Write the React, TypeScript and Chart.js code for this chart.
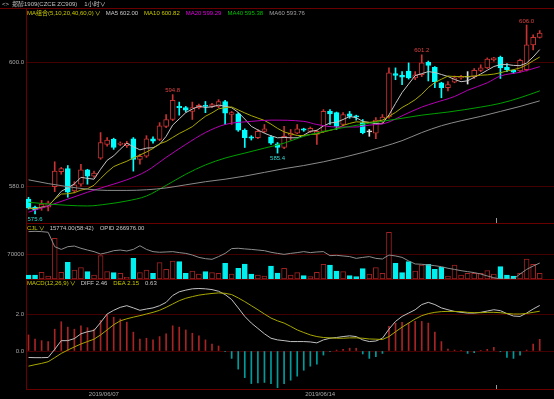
import React, { useEffect, useRef } from "react";
import { Chart, registerables } from "chart.js";

Chart.register(...registerables);

// ---------------- data ----------------
const OPEN = [578.0, 576.7, 576.6, 576.7, 580.0, 582.4, 582.9, 579.3, 580.4, 582.7,
  581.7, 584.6, 586.8, 587.6, 586.8, 586.6, 587.7, 584.4, 584.9, 587.7,
  587.6, 589.7, 590.8, 592.9, 592.7, 592.1, 592.7, 593.0, 592.9, 592.9,
  593.7, 591.6, 591.7, 589.1, 588.0, 587.9, 588.9, 588.0, 586.9, 586.3,
  588.3, 588.6, 589.3, 588.9, 588.4, 588.9, 592.1, 591.9, 590.0, 591.7,
  591.4, 590.3, 588.8, 588.6, 590.5, 591.2, 598.2, 597.9, 598.6, 597.5,
  598.0, 600.0, 599.2, 596.7, 595.9, 596.8, 597.5, 597.6, 597.7, 598.7,
  599.1, 600.4, 600.8, 599.2, 598.7, 598.6, 598.8, 602.8, 604.0];
const HIGH = [578.3, 576.9, 577.8, 577.7, 584.0, 583.1, 583.4, 580.8, 583.6, 582.8,
  582.5, 588.7, 587.9, 587.8, 587.2, 587.3, 587.9, 585.2, 588.2, 588.0,
  590.3, 591.6, 594.8, 593.6, 592.9, 593.6, 593.3, 593.7, 593.4, 594.0,
  593.9, 592.1, 591.9, 589.3, 588.2, 589.2, 590.0, 588.2, 587.1, 589.7,
  589.2, 590.0, 589.4, 589.6, 589.1, 592.4, 592.4, 592.0, 591.9, 592.1,
  591.5, 590.8, 589.2, 591.1, 591.6, 599.1, 599.1, 598.5, 599.9, 598.5,
  601.2, 600.2, 599.3, 596.8, 596.9, 597.8, 597.9, 598.5, 599.0, 599.6,
  600.7, 600.8, 601.0, 599.8, 598.8, 600.5, 606.0, 604.4, 605.1];
const LOW = [576.4, 575.6, 576.2, 576.1, 579.2, 582.0, 578.3, 579.0, 580.1, 580.4,
  581.5, 584.4, 586.5, 586.0, 586.6, 586.3, 582.5, 583.6, 584.7, 587.0,
  587.4, 589.5, 590.6, 591.5, 592.0, 590.8, 592.5, 591.9, 592.7, 592.7,
  590.0, 590.0, 588.9, 586.3, 587.5, 587.7, 588.7, 586.8, 585.4, 586.1,
  587.5, 588.5, 588.9, 588.7, 586.8, 588.7, 590.0, 589.2, 589.8, 591.0,
  590.7, 588.5, 588.1, 587.7, 590.2, 591.0, 597.2, 596.4, 597.3, 597.2,
  597.7, 597.0, 595.9, 594.3, 595.4, 596.7, 597.3, 596.5, 597.4, 598.5,
  599.0, 600.2, 597.4, 598.5, 598.2, 598.4, 598.6, 602.0, 603.9];
const CLOSE = [576.6, 576.3, 577.2, 577.4, 582.5, 582.9, 579.1, 580.3, 582.7, 581.7,
  582.2, 587.1, 587.5, 586.3, 587.0, 587.0, 584.4, 584.9, 587.7, 587.3,
  589.8, 590.8, 593.9, 592.7, 592.3, 592.7, 593.1, 592.9, 593.2, 593.7,
  591.8, 591.9, 589.1, 587.9, 587.8, 588.9, 589.3, 587.0, 586.3, 588.1,
  588.6, 589.3, 589.1, 589.4, 588.9, 592.1, 591.7, 589.7, 591.6, 591.3,
  591.2, 588.7, 588.8, 590.7, 591.2, 598.3, 597.9, 597.6, 597.5, 598.0,
  599.9, 599.5, 596.9, 595.9, 596.4, 597.5, 597.7, 597.6, 598.7, 599.1,
  600.5, 600.7, 599.1, 598.8, 598.4, 600.3, 602.8, 604.0, 604.7];

const VOLUME = [11300, 11300, 18900, 8500, 115300, 18900, 47200, 25500, 32100, 20800,
  11300, 66100, 20800, 17900, 16100, 4700, 58600, 17900, 25500, 16100,
  46300, 27400, 51000, 49100, 16100, 22700, 14200, 20800, 17900, 16100,
  44400, 14200, 30200, 42500, 14200, 11300, 8500, 36800, 17000, 30200,
  11300, 17900, 9400, 6600, 18900, 41600, 39700, 22700, 20800, 9400,
  6600, 29300, 14200, 32100, 16100, 132300, 44400, 17900, 49100, 22700,
  39700, 41600, 27400, 33100, 8500, 39700, 11300, 16100, 16100, 16100,
  23600, 14200, 34900, 11300, 8500, 16100, 56700, 41600, 15774];

const OPID = [286600, 286800, 286600, 286200, 277200, 275500, 277200, 277600, 276200, 275100,
  274100, 272600, 273500, 274700, 275100, 274500, 275500, 277800, 275500, 274100,
  273700, 273900, 274100, 273500, 273000, 272000, 270500, 269700, 269300, 271000,
  273000, 276000, 276200, 275800, 275500, 275100, 274700, 273700, 273000, 272400,
  273000, 273500, 274100, 273500, 273900, 274100, 271600, 271800, 271400, 271000,
  269900, 270500, 271000, 269900, 269500, 272000, 271400, 270500, 268300, 266400,
  266200, 265800, 265300, 264700, 263700, 263000, 262200, 261600, 261000, 260100,
  258900, 257800, 257000, 257000, 257000, 260100, 263000, 265100, 266976];

const MA20_AT = [0, 3, 6, 9, 12, 15, 18, 21, 24, 27, 30, 34, 37, 42, 44, 47, 50, 52, 54, 55, 57, 60, 62, 65, 67, 70, 72, 75, 78];
const MA20 = [575.9, 576.9, 578.0, 579.1, 580.1, 581.1, 582.5, 584.7, 586.8, 588.7, 590.0, 590.5, 590.7, 590.5, 590.0, 589.6, 589.6, 589.9, 590.1, 590.4, 591.4, 592.8, 593.5, 594.5, 595.5, 596.7, 597.8, 598.4, 599.3];
const MA40_AT = [0, 3, 6, 9, 12, 15, 18, 21, 24, 27, 30, 33, 36, 39, 42, 47, 52, 57, 60, 64, 69, 72, 75, 78];
const MA40 = [577.5, 577.2, 577.0, 576.9, 577.2, 577.7, 578.5, 580.2, 582.0, 583.5, 584.6, 585.4, 586.2, 587.0, 588.1, 589.3, 590.2, 591.0, 591.5, 592.0, 592.8, 593.4, 594.3, 595.4];
const MA60_AT = [0, 3, 6, 9, 12, 15, 18, 21, 24, 27, 30, 33, 36, 39, 42, 45, 48, 51, 54, 57, 60, 63, 66, 69, 72, 75, 78];
const MA60 = [581.1, 580.5, 580.0, 579.6, 579.4, 579.4, 579.5, 579.8, 580.3, 580.8, 581.2, 581.7, 582.3, 582.9, 583.4, 584.0, 584.7, 585.5, 586.4, 587.4, 588.7, 589.8, 590.6, 591.3, 592.1, 592.9, 593.8];

const DIFF = [-0.35, -0.36, -0.36, -0.35, 0.09, 0.56, 0.56, 0.67, 0.93, 1.04,
  1.11, 1.54, 2.00, 2.20, 2.36, 2.45, 2.33, 2.20, 2.27, 2.33,
  2.45, 2.63, 3.00, 3.20, 3.29, 3.36, 3.38, 3.36, 3.32, 3.23,
  3.05, 2.78, 2.33, 1.87, 1.51, 1.22, 0.93, 0.69, 0.60, 0.56,
  0.51, 0.51, 0.51, 0.49, 0.44, 0.60, 0.69, 0.73, 0.78, 0.82,
  0.78, 0.60, 0.51, 0.54, 0.69, 1.18, 1.60, 1.87, 2.05, 2.23,
  2.51, 2.63, 2.51, 2.33, 2.23, 2.14, 2.09, 2.05, 2.05, 2.09,
  2.16, 2.23, 2.18, 2.02, 1.89, 1.87, 2.05, 2.27, 2.46];
const DEA = [-0.82, -0.74, -0.67, -0.58, -0.36, -0.13, 0.05, 0.22, 0.38, 0.51,
  0.64, 0.87, 1.14, 1.42, 1.63, 1.74, 1.83, 1.91, 2.00, 2.09,
  2.20, 2.36, 2.54, 2.72, 2.85, 2.94, 3.02, 3.07, 3.11, 3.14,
  3.12, 3.05, 2.87, 2.67, 2.45, 2.23, 2.00, 1.78, 1.63, 1.51,
  1.33, 1.14, 1.00, 0.87, 0.78, 0.73, 0.71, 0.69, 0.69, 0.71,
  0.71, 0.69, 0.65, 0.64, 0.62, 0.78, 1.04, 1.29, 1.51, 1.73,
  1.91, 2.02, 2.09, 2.13, 2.14, 2.14, 2.13, 2.09, 2.07, 2.07,
  2.09, 2.09, 2.07, 2.03, 2.00, 2.00, 2.03, 2.09, 2.15];
const MACD_HIST = [0.87, 0.65, 0.56, 0.51, 1.18, 1.58, 1.29, 1.18, 1.36, 1.26,
  1.18, 1.65, 1.96, 1.83, 1.73, 1.56, 1.02, 0.65, 0.69, 0.60,
  0.78, 0.93, 1.36, 1.29, 1.14, 0.96, 0.82, 0.60, 0.38, 0.27,
  -0.04, -0.40, -0.98, -1.44, -1.76, -1.73, -1.70, -1.76, -1.98, -1.76,
  -1.58, -1.36, -1.04, -0.82, -0.71, -0.22, -0.04, 0.05, 0.09, 0.15,
  0.15, -0.16, -0.40, -0.31, -0.13, 1.33, 1.51, 1.55, 1.51, 1.60,
  1.60, 1.51, 1.02, 0.51, 0.11, 0.05, 0.02, -0.13, -0.09, 0.02,
  0.09, 0.20, -0.04, -0.35, -0.40, -0.22, 0.05, 0.38, 0.63];

const MA_NAMES = ["MA5", "MA10", "MA20", "MA40", "MA60"];
const MA_LAST = [602.0, 600.82, 599.29, 595.38, 593.76];
const HIGH_MARKS = [22, 60, 76];
const LOW_MARKS = [1, 38];
const DATE_TICKS: [number, string][] = [[11.5, "2019/06/07"], [44.5, "2019/06/14"]];
const CURSOR_AT = 71.4;
const MAIN_TICKS = [600, 580];
const VOL_TICKS = [70000];
const MACD_TICKS = [2, 0];
const VOL_TIME = "58:42";
const TITLE = ["<>", "郑醇1909(CZCE ZC909)", "1小时∨"];

// ---------------- scale ranges / styles ----------------
const X_RANGE = { min: -0.38, max: 80.18 };
const MAIN_RANGE = { min: 574.16, max: 608.73 };
const VOL_RANGE = { min: 0, max: 158700 };
const OPID_RANGE = { min: 257000, max: 292000 };
const MACD_RANGE = { min: -2.054, max: 3.892 };

const FONT = "'Liberation Sans', 'Noto Sans CJK SC', 'DejaVu Sans', sans-serif";
const FRAME = "#680000";
const GRID = "#440000";
const TICK_C = "#a8a8a8";
const C_RED = "#c83232";
const C_CYAN = "#00ffff";
const C_DOJI = "#e0e0e0";
const V_RED = "#a02222";
const V_CYAN = "#00f0f0";
const H_RED = "#a82424";
const H_CYAN = "#009c9c";
const MA_COLORS = ["#c4c4c4", "#a8a800", "#b400b4", "#00a000", "#8a8a8a"];
const MA_LEG_COLORS = ["#c8c8c8", "#c8c800", "#e000e0", "#00c000", "#a0a0a0"];
const LEG_YEL = "#c8c800";
const LEG_W = "#c8c8c8";
const DIFF_C = "#c0c0c0";
const DEA_C = "#a8a800";
const OPID_C = "#8c8c8c";
const PEAK_RED = "#e04040";
const LOW_CYAN = "#30d8d0";

type Seg = { text: string; color: string; gap?: number };

function movingAverage(values: number[], w: number): number[] {
  return values.map((_, i) => {
    const s = Math.max(0, i - w + 1);
    const part = values.slice(s, i + 1);
    return part.reduce((a, b) => a + b, 0) / part.length;
  });
}

function drawSegs(ctx: CanvasRenderingContext2D, x: number, y: number, segs: Seg[]) {
  ctx.save();
  ctx.font = `6px ${FONT}`;
  ctx.textBaseline = "middle";
  ctx.textAlign = "left";
  let cx = x;
  for (const s of segs) {
    ctx.fillStyle = s.color;
    ctx.fillText(s.text, cx, y);
    cx += ctx.measureText(s.text).width + (s.gap ?? 6);
  }
  ctx.restore();
}

function framePlugin(opts: { top?: boolean; legend: Seg[]; legendDy: number; extra?: (c: any) => void }) {
  return {
    id: "panelFrame",
    afterDraw(chart: any) {
      const { ctx, chartArea: ca } = chart;
      ctx.save();
      ctx.strokeStyle = FRAME;
      ctx.lineWidth = 1;
      ctx.beginPath();
      if (opts.top) {
        ctx.moveTo(0, ca.top + 0.5);
        ctx.lineTo(chart.width, ca.top + 0.5);
      }
      ctx.moveTo(ca.left, ca.bottom + 0.5);
      ctx.lineTo(ca.right, ca.bottom + 0.5);
      ctx.stroke();
      ctx.restore();
      drawSegs(ctx, ca.left + 1, ca.top + opts.legendDy, opts.legend);
      if (opts.extra) opts.extra(chart);
    },
  };
}

function xScale(display: boolean) {
  const base: any = {
    type: "linear",
    min: X_RANGE.min,
    max: X_RANGE.max,
    offset: false,
    display,
    grid: { display: false, drawTicks: false },
    border: { display: false },
  };
  if (display) {
    base.afterBuildTicks = (s: any) => {
      s.ticks = DATE_TICKS.map((t) => ({ value: t[0] }));
    };
    base.afterFit = (s: any) => {
      s.height = 10;
    };
    base.ticks = {
      color: TICK_C,
      font: { size: 6, family: FONT },
      padding: 2,
      autoSkip: false,
      maxRotation: 0,
      minRotation: 0,
      callback: (_v: any, i: number) => (DATE_TICKS[i] ? DATE_TICKS[i][1] : ""),
    };
  }
  return base;
}

function yAxis(range: { min: number; max: number }, ticks: number[], fmt: (v: number) => string) {
  return {
    type: "linear",
    position: "left",
    min: range.min,
    max: range.max,
    afterFit: (s: any) => {
      s.width = 26;
    },
    afterBuildTicks: (s: any) => {
      s.ticks = ticks.map((v) => ({ value: v }));
    },
    grid: { color: GRID, drawTicks: false, lineWidth: 1 },
    border: { display: true, color: FRAME },
    ticks: {
      color: TICK_C,
      font: { size: 6, family: FONT },
      padding: 2,
      autoSkip: false,
      callback: (v: any) => fmt(Number(v)),
    },
  };
}

function baseOptions(scales: any, padding: any) {
  return {
    responsive: false,
    maintainAspectRatio: false,
    animation: false,
    devicePixelRatio: 1,
    events: [],
    layout: { padding },
    plugins: { legend: { display: false }, tooltip: { enabled: false }, title: { display: false } },
    scales,
  } as any;
}

const pts = (xs: number[], ys: number[]) => xs.map((x, k) => ({ x, y: ys[k] }));

function lineDs(data: any[], color: string, smooth: boolean) {
  return {
    type: "line",
    order: 0,
    data,
    borderColor: color,
    borderWidth: 1,
    pointRadius: 0,
    fill: false,
    tension: 0,
    cubicInterpolationMode: smooth ? "monotone" : "default",
  } as any;
}

function cursorTick(chart: any, len: number) {
  const { ctx, chartArea: ca } = chart;
  const x = Math.round(chart.scales.x.getPixelForValue(CURSOR_AT)) + 0.5;
  ctx.save();
  ctx.strokeStyle = "#9a9a9a";
  ctx.lineWidth = 1;
  ctx.beginPath();
  ctx.moveTo(x, ca.bottom - len);
  ctx.lineTo(x, ca.bottom);
  ctx.stroke();
  ctx.restore();
}

function makeMain(canvas: HTMLCanvasElement) {
  const idx = CLOSE.map((_, i) => i);
  const dir = idx.map((i) => Math.sign(CLOSE[i] - OPEN[i]));
  const col = dir.map((d) => (d > 0 ? C_RED : d < 0 ? C_CYAN : C_DOJI));
  const fill = dir.map((d) => (d > 0 ? "#000000" : d < 0 ? C_CYAN : C_DOJI));
  const ma5 = movingAverage(CLOSE, 5);
  const ma10 = movingAverage(CLOSE, 10);
  const legend: Seg[] = [
    { text: "MA组合(5,10,20,40,60,0)", color: LEG_YEL, gap: 1 },
    { text: "∨", color: LEG_YEL, gap: 5 },
    ...MA_NAMES.map((n, k) => ({ text: `${n} ${MA_LAST[k].toFixed(2)}`, color: MA_LEG_COLORS[k], gap: 6 })),
  ];
  return new Chart(canvas, {
    type: "bar",
    data: {
      datasets: [
        lineDs(pts(MA60_AT, MA60), MA_COLORS[4], true),
        lineDs(pts(MA40_AT, MA40), MA_COLORS[3], true),
        lineDs(pts(MA20_AT, MA20), MA_COLORS[2], true),
        lineDs(pts(idx, ma10), MA_COLORS[1], false),
        lineDs(pts(idx, ma5), MA_COLORS[0], false),
        {
          type: "bar",
          order: 1,
          data: idx.map((i) => ({ x: i, y: [Math.min(OPEN[i], CLOSE[i]), Math.max(OPEN[i], CLOSE[i])] })),
          backgroundColor: fill,
          borderColor: col,
          borderWidth: 1,
          borderSkipped: false,
          barThickness: 5,
          minBarLength: 1,
          grouped: false,
        },
        {
          type: "bar",
          order: 2,
          data: idx.map((i) => ({ x: i, y: [LOW[i], HIGH[i]] })),
          backgroundColor: col,
          borderWidth: 0,
          barThickness: 1,
          grouped: false,
        },
      ] as any,
    },
    options: baseOptions(
      { x: xScale(false), y: yAxis(MAIN_RANGE, MAIN_TICKS, (v) => v.toFixed(1)) },
      { top: 8, bottom: 9, left: 0, right: 0 }
    ),
    plugins: [
      framePlugin({
        top: true,
        legend,
        legendDy: 5.3,
        extra: (chart: any) => {
          const { ctx } = chart;
          drawSegs(ctx, 2, 4, [
            { text: TITLE[0], color: "#c0c0c0", gap: 3 },
            { text: TITLE[1], color: "#c0c0c0", gap: 7 },
            { text: TITLE[2], color: "#c0c0c0" },
          ]);
          const xs = chart.scales.x;
          const ys = chart.scales.y;
          ctx.save();
          ctx.font = `6px ${FONT}`;
          ctx.textAlign = "center";
          ctx.fillStyle = PEAK_RED;
          ctx.textBaseline = "bottom";
          HIGH_MARKS.forEach((i) => ctx.fillText(HIGH[i].toFixed(1), xs.getPixelForValue(i), ys.getPixelForValue(HIGH[i]) - 1));
          ctx.fillStyle = LOW_CYAN;
          ctx.textBaseline = "top";
          LOW_MARKS.forEach((i) => ctx.fillText(LOW[i].toFixed(1), xs.getPixelForValue(i), ys.getPixelForValue(LOW[i]) + 2));
          ctx.restore();
          cursorTick(chart, 5);
        },
      }),
    ],
  } as any);
}

function makeVolume(canvas: HTMLCanvasElement) {
  const idx = CLOSE.map((_, i) => i);
  const up = idx.map((i) => CLOSE[i] >= OPEN[i]);
  const N = VOLUME.length;
  const legend: Seg[] = [
    { text: "CJL", color: LEG_YEL, gap: 1 },
    { text: "∨", color: LEG_YEL, gap: 5 },
    { text: `${VOLUME[N - 1].toFixed(2)}(${VOL_TIME})`, color: LEG_W, gap: 6 },
    { text: `OPID ${OPID[N - 1].toFixed(2)}`, color: LEG_W },
  ];
  return new Chart(canvas, {
    type: "bar",
    data: {
      datasets: [
        { type: "line", order: 0, yAxisID: "yo", data: pts(idx, OPID), borderColor: OPID_C, borderWidth: 1, pointRadius: 0, fill: false, tension: 0 },
        {
          type: "bar",
          order: 1,
          yAxisID: "y",
          data: pts(idx, VOLUME),
          backgroundColor: up.map((u) => (u ? "#000000" : V_CYAN)),
          borderColor: up.map((u) => (u ? V_RED : V_CYAN)),
          borderWidth: 1,
          borderSkipped: false,
          barThickness: 5,
          grouped: false,
        },
      ] as any,
    },
    options: baseOptions(
      {
        x: xScale(false),
        y: yAxis(VOL_RANGE, VOL_TICKS, (v) => String(Math.round(v))),
        yo: { type: "linear", position: "right", display: false, min: OPID_RANGE.min, max: OPID_RANGE.max },
      },
      { top: 8, bottom: 8, left: 0, right: 0 }
    ),
    plugins: [framePlugin({ legend, legendDy: 5.3 })],
  } as any);
}

function makeMacd(canvas: HTMLCanvasElement) {
  const idx = CLOSE.map((_, i) => i);
  const N = DIFF.length;
  const legend: Seg[] = [
    { text: "MACD(12,26,9)", color: LEG_YEL, gap: 1 },
    { text: "∨", color: LEG_YEL, gap: 5 },
    { text: `DIFF ${DIFF[N - 1].toFixed(2)}`, color: LEG_W, gap: 6 },
    { text: `DEA ${DEA[N - 1].toFixed(2)}`, color: LEG_YEL, gap: 6 },
    { text: MACD_HIST[N - 1].toFixed(2), color: LEG_W },
  ];
  return new Chart(canvas, {
    type: "bar",
    data: {
      datasets: [
        lineDs(pts(idx, DEA), DEA_C, false),
        lineDs(pts(idx, DIFF), DIFF_C, false),
        {
          type: "bar",
          order: 1,
          data: pts(idx, MACD_HIST),
          backgroundColor: MACD_HIST.map((v) => (v >= 0 ? H_RED : H_CYAN)),
          borderWidth: 0,
          barThickness: 1,
          grouped: false,
        },
      ] as any,
    },
    options: baseOptions(
      { x: xScale(true), y: yAxis(MACD_RANGE, MACD_TICKS, (v) => v.toFixed(1)) },
      { top: 8, bottom: 0, left: 0, right: 0 }
    ),
    plugins: [framePlugin({ legend, legendDy: 4.5, extra: (c: any) => cursorTick(c, 4) })],
  } as any);
}

export default function App() {
  const aRef = useRef<HTMLCanvasElement>(null);
  const bRef = useRef<HTMLCanvasElement>(null);
  const cRef = useRef<HTMLCanvasElement>(null);

  useEffect(() => {
    const charts = [makeMain(aRef.current!), makeVolume(bRef.current!), makeMacd(cRef.current!)];
    return () => charts.forEach((c) => c.destroy());
  }, []);

  return (
    <div style={{ position: "fixed", left: 0, top: 0, width: 554, height: 399, background: "#000", overflow: "hidden" }}>
      <canvas ref={aRef} width={554} height={232} style={{ position: "absolute", left: 0, top: 0 }} />
      <canvas ref={bRef} width={554} height={72} style={{ position: "absolute", left: 0, top: 215 }} />
      <canvas ref={cRef} width={554} height={128} style={{ position: "absolute", left: 0, top: 271 }} />
    </div>
  );
}
